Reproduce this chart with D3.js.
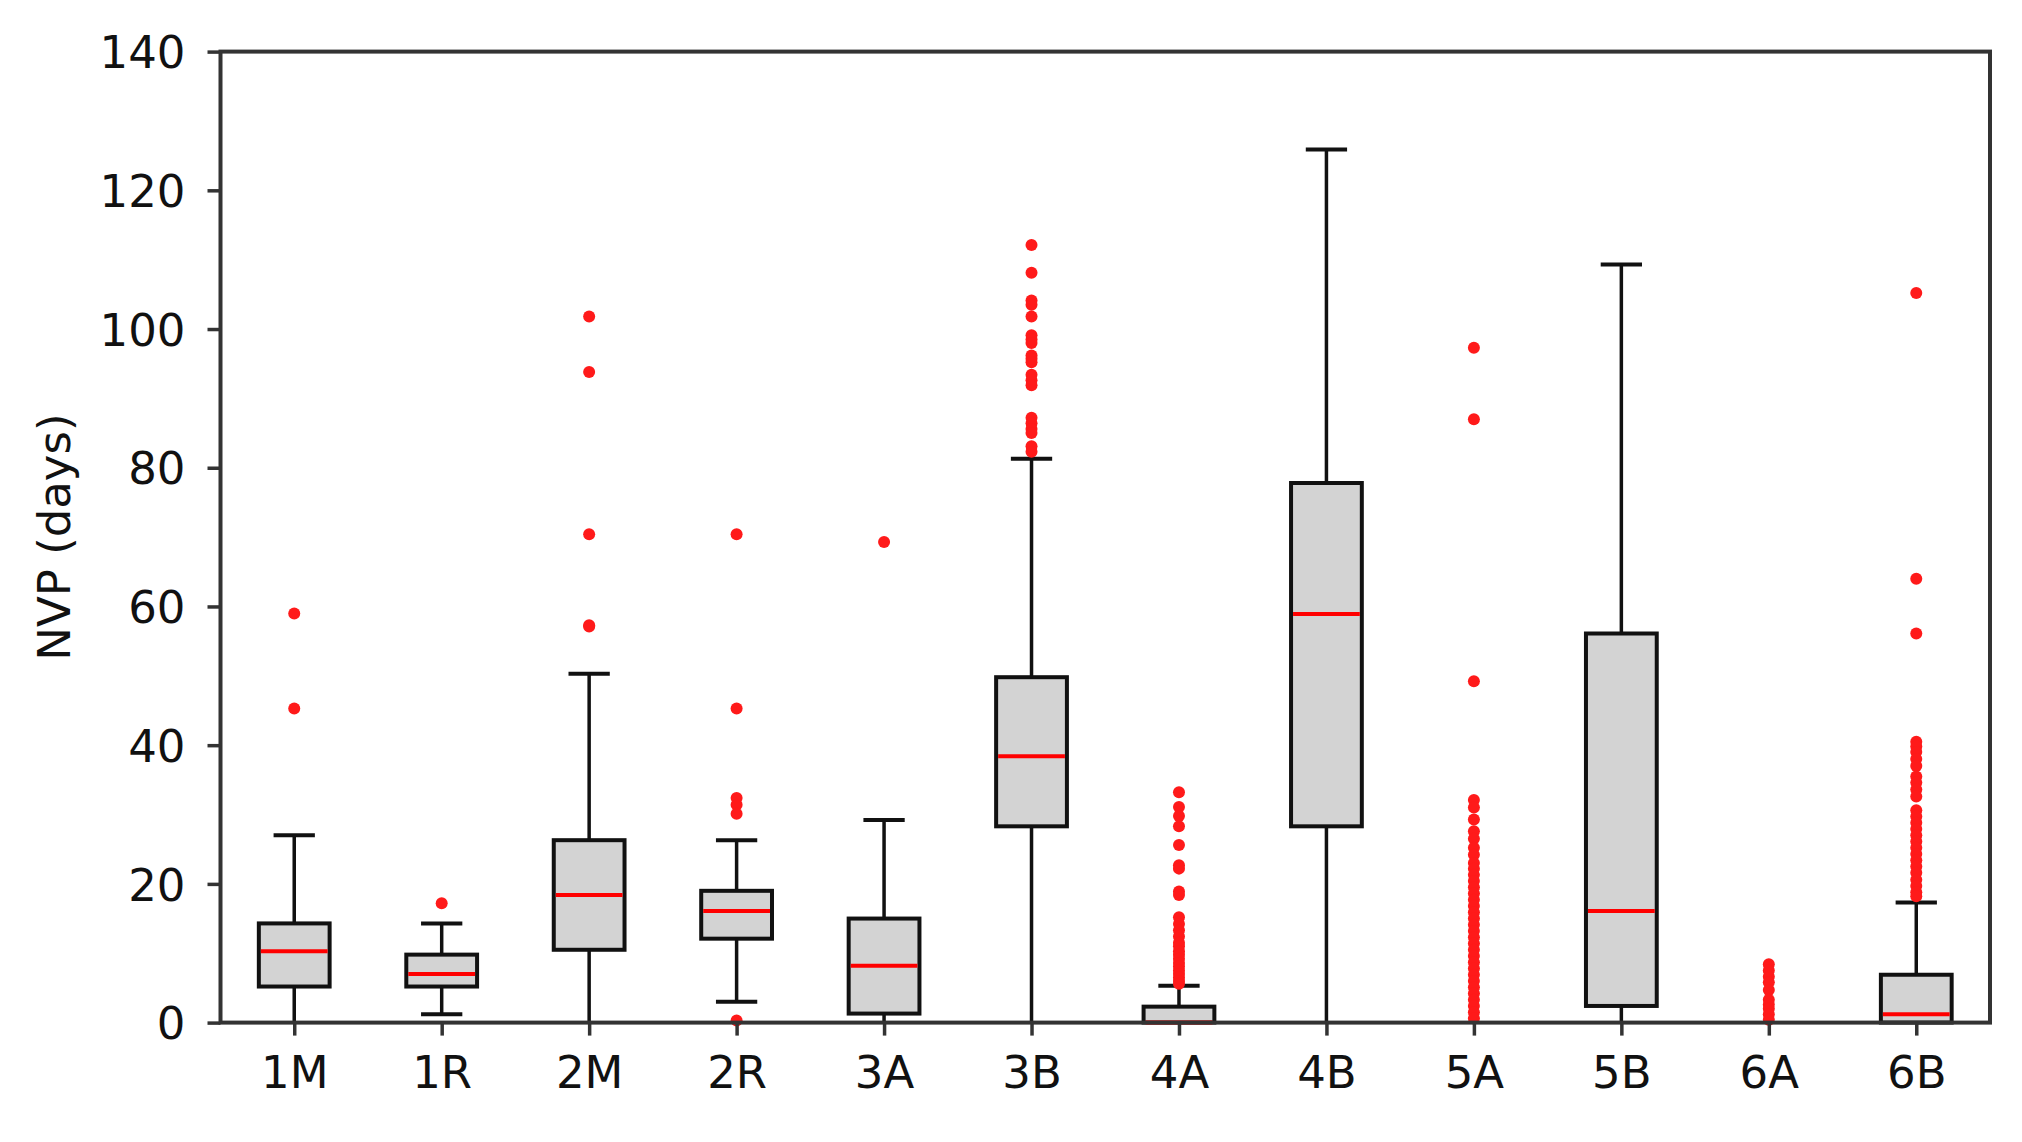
<style>body { margin: 0; }</style>
<svg width="2022" height="1142"></svg>

<script src="https://d3js.org/d3.v7.min.js"></script>
<script>

	// box plot of NVP per group, matplotlib-style

	const categories = ["1M", "1R", "2M", "2R", "3A", "3B", "4A", "4B", "5A", "5B", "6A", "6B"]
	const whiskerLow = [0, 1.2, 0, 3.0, 0, 0, 0, 0, 0, 0, 0, 0]
	const q1 = [5.2, 5.2, 10.5, 12.1, 1.3, 28.3, 0, 28.3, 0, 2.4, 0, 0]
	const median = [10.3, 7.0, 18.4, 16.1, 8.2, 38.4, 0, 58.9, 0, 16.1, 0, 1.2]
	const q3 = [14.3, 9.8, 26.3, 19.0, 15.0, 49.8, 2.3, 77.8, 0, 56.1, 0, 6.9]
	const whiskerHigh = [27.0, 14.3, 50.3, 26.3, 29.2, 81.3, 5.3, 125.9, 0, 109.3, 0, 17.3]
	const outliers = [
		[59, 45.3],
		[17.2],
		[101.8, 93.8, 70.4, 57.3, 57.1],
		[70.4, 45.3, 32.4, 31.4, 30.1, 0.3],
		[69.3],
		[112.1, 108.1, 104.1, 103.5, 101.8, 99.1, 98.5, 98.0, 96.2, 95.7, 95.2, 93.4, 92.6, 91.9,
			87.2, 86.4, 85.6, 85.0, 83.1, 82.3],
		[33.2, 31.1, 29.8, 28.3, 25.6, 22.7, 22.2, 18.9, 18.4, 15.2, 14.2, 13.3, 12.4, 11.5, 11,
			10.3, 9.8, 9.2, 8.6, 8.1, 7.5, 7.0, 6.5, 6.0, 5.6],
		[],
		[97.3, 87.0, 49.2, 32.1, 31.0, 29.3, 27.6, 26.5, 25.2, 24.2, 23.0, 22.2, 21.3, 20.4, 19.5,
			18.6, 17.7, 16.8, 15.9, 15.0, 14.1, 13.2, 12.3, 11.4, 10.5, 9.6, 8.7, 7.8, 6.9, 6.0,
			5.1, 4.2, 3.3, 2.4, 1.5, 0.6],
		[],
		[8.4, 7.5, 6.6, 5.8, 4.7, 3.3, 2.6, 2.0, 1.2, 0.4],
		[105.2, 64.0, 56.1, 40.5, 39.8, 39.0, 38.0, 37.0, 35.5, 34.6, 33.6, 32.6, 30.6, 29.7,
			28.8, 27.9, 27.0, 26.1, 25.2, 24.3, 23.4, 22.5, 21.6, 20.6, 19.7, 18.8, 18.2]
	]
	const yTicks = [0, 20, 40, 60, 80, 100, 120, 140]

	const plotL = 220.5, plotR = 1990, plotT = 51.6, plotB = 1022.6
	const font = "DejaVu Sans"

	const svg = d3.select(document.querySelector('svg'))
		.style("background", "#fff")
		.style("display", "block")
		.attr("font-family", font)

	const x = d3.scalePoint()
		.domain(categories)
		.range([plotL, plotR])
		.padding(0.5)
	const band = x.step()
	const y = d3.scaleLinear()
		.domain([0, 140])
		.range([plotB, plotT])

	const boxes = categories.map((c, i) => ({
		name: c,
		lo: whiskerLow[i], q1: q1[i], med: median[i], q3: q3[i], hi: whiskerHigh[i],
		out: outliers[i]
	}))

	const boxW = band * 0.48
	const capW = band * 0.28

	const g = svg.selectAll("g.box")
		.data(boxes)
		.join("g")
			.attr("class", "box")
			.attr("transform", d => `translate(${x(d.name)},0)`)

	// whiskers
	g.append("line")
		.attr("y1", d => y(d.q3)).attr("y2", d => y(d.hi))
		.attr("stroke", "#111").attr("stroke-width", 3.5)
	g.append("line")
		.attr("y1", d => y(d.q1)).attr("y2", d => y(d.lo))
		.attr("stroke", "#111").attr("stroke-width", 3.5)
	// caps
	g.filter(d => d.hi > d.q3).append("line")
		.attr("x1", -capW / 2).attr("x2", capW / 2)
		.attr("y1", d => y(d.hi)).attr("y2", d => y(d.hi))
		.attr("stroke", "#111").attr("stroke-width", 4)
	g.filter(d => d.lo < d.q1 && d.lo > 0).append("line")
		.attr("x1", -capW / 2).attr("x2", capW / 2)
		.attr("y1", d => y(d.lo)).attr("y2", d => y(d.lo))
		.attr("stroke", "#111").attr("stroke-width", 4)

	// box (degenerate all-zero boxes are not visible in the original)
	const real = g.filter(d => d.q3 > d.q1)
	real.append("rect")
		.attr("x", -boxW / 2)
		.attr("width", boxW)
		.attr("y", d => y(d.q3))
		.attr("height", d => y(d.q1) - y(d.q3))
		.attr("fill", "#d3d3d3")
		.attr("stroke", "#111")
		.attr("stroke-width", 4)

	// median
	real.append("line")
		.attr("x1", -boxW / 2 + 2).attr("x2", boxW / 2 - 2)
		.attr("y1", d => y(d.med)).attr("y2", d => y(d.med))
		.attr("stroke", "#ff0000").attr("stroke-width", 4)

	// outliers
	g.selectAll("circle")
		.data(d => d.out)
		.join("circle")
			.attr("cy", d => y(d))
			.attr("r", 6)
			.attr("fill", "#ff1a1a")

	// axes
	const yAxis = svg.append("g")
		.attr("transform", `translate(${plotL},0)`)
		.call(d3.axisLeft(y).tickValues(yTicks).tickSize(13).tickPadding(22))
	const xAxis = svg.append("g")
		.attr("transform", `translate(0,${plotB})`)
		.call(d3.axisBottom(x).tickSize(13).tickPadding(20))

	for (const ax of [yAxis, xAxis]) {
		ax.select(".domain").remove()
		ax.selectAll(".tick line").attr("stroke", "#333").attr("stroke-width", 3.5)
		ax.selectAll(".tick text")
			.attr("fill", "#111")
			.attr("font-size", 45)
			.attr("font-family", font)
	}
	yAxis.selectAll(".tick text").attr("dy", "0.36em")

	// frame
	svg.append("rect")
		.attr("x", plotL).attr("y", plotT)
		.attr("width", plotR - plotL).attr("height", plotB - plotT)
		.attr("fill", "none")
		.attr("stroke", "#333")
		.attr("stroke-width", 4)

	svg.append("text")
		.attr("transform", `translate(70,${(plotT + plotB) / 2}) rotate(-90)`)
		.attr("text-anchor", "middle")
		.attr("font-size", 45)
		.attr("fill", "#111")
		.text("NVP (days)")
</script>
